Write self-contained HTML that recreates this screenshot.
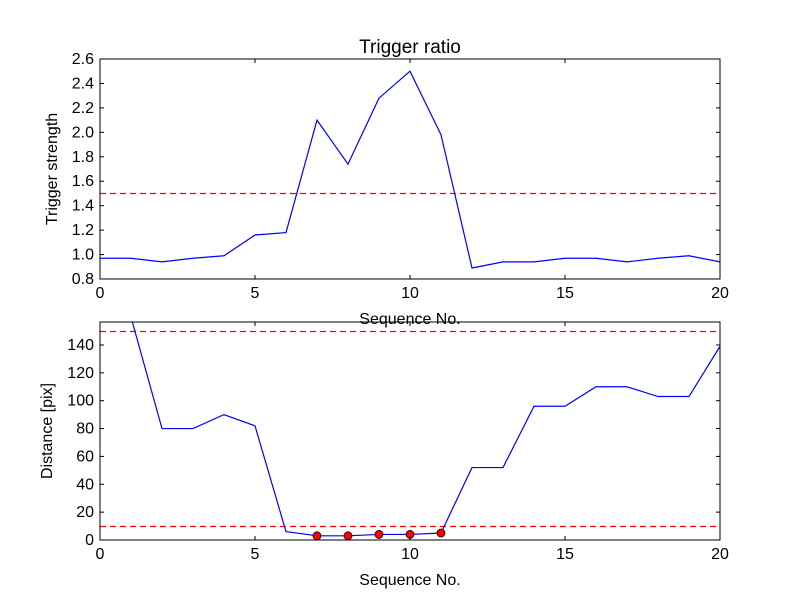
<!DOCTYPE html>
<html><head><meta charset="utf-8"><style>
body{margin:0;background:#fff;}
svg text{font-family:"Liberation Sans","DejaVu Sans",sans-serif;fill:#000;}
</style></head><body>
<svg id="c" width="800" height="600" xmlns="http://www.w3.org/2000/svg">
<rect width="800" height="600" fill="#fff"/>
<defs>
<clipPath id="cp1"><rect x="100" y="59" width="620" height="220"/></clipPath>
<clipPath id="cp2"><rect x="100" y="322" width="620" height="218"/></clipPath>
</defs>
</svg>
<script>
const seqX=[0,1,2,3,4,5,6,7,8,9,10,11,12,13,14,15,16,17,18,19,20];
const triggerVals=[0.97,0.97,0.94,0.97,0.99,1.16,1.18,2.1,1.74,2.28,2.5,1.98,0.89,0.94,0.94,0.97,0.97,0.94,0.97,0.99,0.94];
const distVals=[260,160,80,80,90,82,6,3,3,4,4,5,52,52,96,96,110,110,103,103,139];
const markX=[7,8,9,10,11];
const markVals=[3,3,4,4,5];
const xTicks=[0,5,10,15,20];
const topYTicks=[0.8,1.0,1.2,1.4,1.6,1.8,2.0,2.2,2.4,2.6];
const botYTicks=[0,20,40,60,80,100,120,140];
const topThresh=[1.5];
const botThresh=[150,10];

const svg=document.getElementById('c');
const NS='http://www.w3.org/2000/svg';
function mk(t,a,p){const e=document.createElementNS(NS,t);for(const k in a)e.setAttribute(k,a[k]);(p||svg).appendChild(e);return e;}
const L=100,R=720;
const xs=v=>L+(v-0)/(20-0)*(R-L);
function panel(top,bot,ymin,ymax,yt,vals,th,clip,ylabel,title,fmt,key,ylx){
  const ys=v=>bot-(v-ymin)/(ymax-ymin)*(bot-top);
  const g=mk('g',{});
  
  
  th.forEach(t=>{const y=Math.round(ys(t))+0.5;const l=mk('line',{x1:L,x2:R,y1:y,y2:y,stroke:'red','stroke-dasharray':'6,4','stroke-width':1.2},g);
    });
  const pts=seqX.map((x,i)=>xs(x)+','+ys(vals[i])).join(' ');
  const pl=mk('polyline',{points:pts,fill:'none',stroke:'#0000ff','stroke-width':1.2,'clip-path':'url(#'+clip+')'},g);
  
  if(key==='distance'){markX.forEach((x,i)=>{const c=mk('circle',{cx:xs(x),cy:ys(markVals[i]),r:4,fill:'#ff0000',stroke:'#000','stroke-width':0.8},g);
    });}
  const fr=mk('rect',{x:L,y:top,width:R-L,height:bot-top,fill:'none',stroke:'#000','stroke-width':1},g);
  
  xTicks.forEach(t=>{const x=xs(t);
    mk('line',{x1:x,x2:x,y1:bot,y2:bot-4,stroke:'#000'},g);mk('line',{x1:x,x2:x,y1:top,y2:top+4,stroke:'#000'},g);
    const tx=mk('text',{x:x,y:bot+19,'text-anchor':'middle','font-size':16},g);tx.textContent=t;
    });
  yt.forEach(t=>{const y=ys(t);
    mk('line',{x1:L,x2:L+4,y1:y,y2:y,stroke:'#000'},g);mk('line',{x1:R,x2:R-4,y1:y,y2:y,stroke:'#000'},g);
    const tx=mk('text',{x:L-6,y:y+5,'text-anchor':'end','font-size':16},g);tx.textContent=fmt(t);
    });
  const xl=mk('text',{x:410,y:bot+45,'text-anchor':'middle','font-size':16},g);xl.textContent='Sequence No.';
  
  const yl=mk('text',{x:0,y:0,'text-anchor':'middle','font-size':16,transform:'translate('+ylx+','+((top+bot)/2)+') rotate(-90)'},g);yl.textContent=ylabel;
  
  if(title){const ti=mk('text',{x:410,y:top-6,'text-anchor':'middle','font-size':19},g);ti.textContent=title;
    }
}
panel(59,279,0.8,2.6,topYTicks,triggerVals,topThresh,'cp1','Trigger strength','Trigger ratio',t=>t.toFixed(1),'trigger',57);
panel(322,540,0,156.5,botYTicks,distVals,botThresh,'cp2','Distance [pix]',null,t=>String(t),'distance',52);
</script>
</body></html>
